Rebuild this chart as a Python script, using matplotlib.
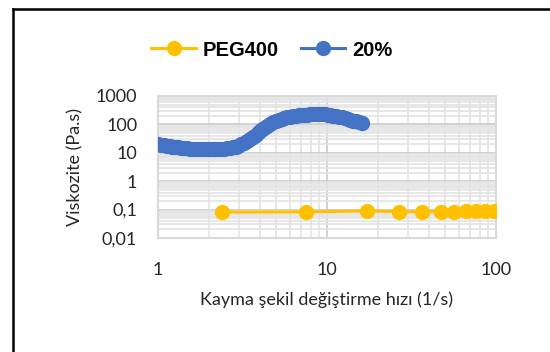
import matplotlib

matplotlib.use("Agg")
import matplotlib.pyplot as plt
from matplotlib.lines import Line2D

# data
peg_x = [2.4, 7.5, 17.3, 26.8, 36.6, 47.4, 56.5, 66.5, 76.2, 86.1, 97.3]
peg_y = [0.082, 0.083, 0.09, 0.085, 0.085, 0.085, 0.085, 0.086, 0.087, 0.087, 0.087]

sol_x = [1.000, 1.040, 1.081, 1.125, 1.170, 1.216, 1.265, 1.315, 1.368, 1.422,
         1.479, 1.538, 1.600, 1.663, 1.730, 1.799, 1.871, 1.945, 2.023, 2.104,
         2.188, 2.275, 2.366, 2.460, 2.559, 2.661, 2.767, 2.877, 2.992, 3.112,
         3.236, 3.365, 3.499, 3.639, 3.784, 3.936, 4.093, 4.256, 4.426, 4.603,
         4.786, 4.977, 5.176, 5.383, 5.598, 5.821, 6.053, 6.295, 6.546, 6.808,
         7.079, 7.362, 7.656, 7.962, 8.279, 8.610, 8.954, 9.311, 9.683, 10.07,
         10.47, 10.89, 11.32, 11.78, 12.25, 12.74, 13.24, 13.77, 14.32, 14.89,
         15.49, 16.11]
sol_y = [20, 19.2, 18.4, 17.7, 17.0, 16.4, 15.9, 15.4, 15.0, 14.6,
         14.3, 14.0, 13.8, 13.6, 13.5, 13.4, 13.3, 13.2, 13.2, 13.2,
         13.2, 13.3, 13.5, 13.8, 14.2, 14.8, 15.6, 16.6, 18.0, 19.8,
         22.2, 25.5, 30, 36, 43, 53, 64, 76, 90, 105,
         120, 135, 148, 158, 167, 176, 184, 192, 199, 206,
         212, 218, 223, 227, 230, 231, 231, 229, 226, 220,
         213, 205, 196, 186, 176, 166, 156, 146, 137, 128,
         119, 111]

yticks = [0.01, 0.1, 1, 10, 100, 1000]
ytick_labels = ["0,01", "0,1", "1", "10", "100", "1000"]
xticks = [1, 10, 100]
xtick_labels = ["1", "10", "100"]

orange = "#FFC000"
blue = "#4472C4"

fig = plt.figure(figsize=(5.5, 3.52), dpi=100)
ax = fig.add_axes([158 / 550, (352 - 238) / 352, (496 - 158) / 550, 142 / 352])

ax.plot(peg_x, peg_y, color=orange, lw=2.2, marker="o", ms=10, label="PEG400", zorder=3)
ax.plot(sol_x, sol_y, color=blue, lw=2.2, marker="o", ms=10, label="20%", zorder=3)

ax.set_xscale("log")
ax.set_yscale("log")
ax.set_xlim(1, 100)
ax.set_ylim(0.01, 1000)

ax.set_xticks(xticks)
ax.set_xticklabels(xtick_labels)
ax.set_yticks(yticks)
ax.set_yticklabels(ytick_labels)
ax.minorticks_on()
ax.tick_params(which="both", length=0)
ax.tick_params(axis="x", which="minor", labelbottom=False)
ax.tick_params(axis="y", which="minor", labelleft=False)
for lab in ax.get_xticklabels() + ax.get_yticklabels():
    lab.set_fontfamily("Lato")
    lab.set_fontsize(13)
    lab.set_color("#262626")
ax.tick_params(axis="x", pad=17)
ax.tick_params(axis="y", pad=15)

ax.grid(which="major", color="#c9c9c9", lw=1.2)
ax.grid(which="minor", color="#e3e3e3", lw=1.2)
ax.set_axisbelow(True)
for s in ax.spines.values():
    s.set_color("#d9d9d9")
    s.set_linewidth(1.5)

ax.set_xlabel("Kayma şekil değiştirme hızı (1/s)", fontfamily="Lato", fontsize=13,
              color="#262626", labelpad=10)
ax.set_ylabel("Viskozite (Pa.s)", fontfamily="Lato", fontsize=13, color="#262626", labelpad=9)

fig.legend(loc="center", bbox_to_anchor=(272 / 550, 1 - 50 / 352), ncol=2, frameon=False,
           prop={"family": "Liberation Sans", "weight": "bold", "size": 14.5},
           handlelength=2.2, handletextpad=0.35, columnspacing=1.1)

# black frame on top and left edges
fig.add_artist(Line2D([12.8 / 550, 12.8 / 550], [0, 1 - 9 / 352], color="black", lw=1.8))
fig.add_artist(Line2D([12.8 / 550, 1], [1 - 9 / 352, 1 - 9 / 352], color="black", lw=1.8))

fig.savefig("out.png", dpi=100)
